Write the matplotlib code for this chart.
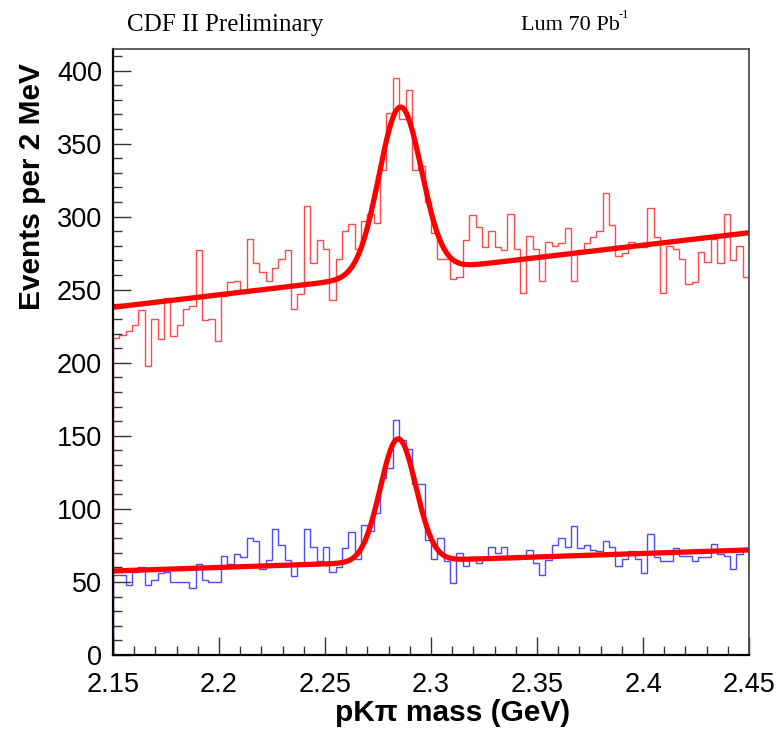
import numpy as np
import matplotlib
matplotlib.use("Agg")
from matplotlib import pyplot as plt
from matplotlib.ticker import MultipleLocator, FuncFormatter

# pK-pi invariant mass, 100 bins between 2.15 and 2.45 GeV
x_min, x_max, n_bins = 2.15, 2.45, 100

upper_counts = [
    217, 219, 222, 226, 236, 198, 230, 216, 244, 218,
    226, 237, 239, 277, 229, 230, 215, 246, 255, 256,
    250, 285, 268, 262, 256, 265, 271, 277, 237, 247,
    307, 268, 284, 278, 243, 271, 290, 295, 278, 297,
    302, 296, 332, 371, 395, 367, 387, 332, 335, 310,
    289, 271, 271, 257, 259, 284, 301, 293, 279, 290,
    279, 277, 302, 278, 248, 287, 278, 256, 283, 280,
    282, 292, 256, 277, 282, 286, 290, 316, 294, 273,
    275, 283, 279, 279, 306, 286, 248, 280, 278, 271,
    254, 255, 276, 269, 285, 268, 302, 270, 280, 259,
]

lower_counts = [
    55, 55, 48, 57, 60, 48, 51, 56, 57, 50,
    50, 50, 46, 62, 51, 50, 50, 68, 62, 69,
    67, 80, 78, 59, 65, 86, 75, 65, 54, 63,
    86, 74, 64, 74, 57, 60, 73, 84, 66, 89,
    85, 97, 121, 128, 161, 147, 141, 117, 117, 79,
    66, 80, 64, 49, 70, 61, 67, 63, 67, 74,
    70, 74, 66, 66, 68, 72, 63, 55, 65, 75,
    80, 74, 88, 73, 75, 72, 71, 78, 74, 61,
    66, 71, 66, 56, 83, 67, 64, 64, 73, 68,
    68, 64, 67, 67, 76, 69, 68, 59, 69, 73,
]

# fit results: linear background (value at 2.15, slope per GeV) + gaussian
upper_fit = dict(bkg=238.0, slope=170.0, mean=2.2855, sigma=0.0100, amp=114.0)
lower_fit = dict(bkg=57.5, slope=48.0, mean=2.2845, sigma=0.0084, amp=84.0)


def fit_curve(x, p):
    bkg = p["bkg"] + p["slope"] * (x - x_min)
    return bkg + p["amp"] * np.exp(-0.5 * ((x - p["mean"]) / p["sigma"]) ** 2)


edges = np.linspace(x_min, x_max, n_bins + 1)
xs = np.linspace(x_min, x_max, 600)

fig = plt.figure(figsize=(7.79, 7.29), dpi=100)
ax = fig.add_axes([113 / 779, 1 - 655 / 729, 636 / 779, 606 / 729])

ax.stairs(upper_counts, edges, color="#ff4a4a", linewidth=1.0)
ax.stairs(lower_counts, edges, color="#4a4aff", linewidth=1.0)
ax.plot(xs, fit_curve(xs, upper_fit), color="#ff0000", linewidth=3.8,
        solid_capstyle="butt")
ax.plot(xs, fit_curve(xs, lower_fit), color="#ff0000", linewidth=3.8,
        solid_capstyle="butt")

ax.set_xlim(x_min, x_max)
ax.set_ylim(0, max(upper_counts) * 1.05)

ax.xaxis.set_major_locator(MultipleLocator(0.05))
ax.xaxis.set_minor_locator(MultipleLocator(0.01))
ax.yaxis.set_major_locator(MultipleLocator(50))
ax.yaxis.set_minor_locator(MultipleLocator(10))
ax.xaxis.set_major_formatter(FuncFormatter(lambda v, _: f"{v:.2f}".rstrip("0")))
ax.tick_params(which="both", direction="in", top=False, right=False,
               labelsize=19.5, labelfontfamily="Liberation Sans", width=1.0,
               color="#333333")
ax.tick_params(which="major", length=13)
ax.tick_params(which="minor", length=6.5)
ax.tick_params(axis="x", pad=12)
ax.tick_params(axis="y", pad=8)

for side in ("left", "bottom"):
    ax.spines[side].set_linewidth(1.6)
for side in ("top", "right"):
    ax.spines[side].set_linewidth(1.2)
    ax.spines[side].set_color("#444444")

fig.text(32 / 779, 1 - 187 / 729, "Events per 2 MeV", rotation=90,
         ha="center", va="center", fontsize=21.5, fontweight="bold",
         family="Liberation Sans")
fig.text(453 / 779, 1 - 713 / 729, "pK\u03c0 mass (GeV)", ha="center",
         va="center", fontsize=21.5, fontweight="bold", family="Liberation Sans")

fig.text(127 / 779, 1 - 25 / 729, "CDF II Preliminary", ha="left",
         va="center", fontsize=18, family="Liberation Serif")
fig.text(521 / 779, 1 - 25 / 729, "Lum 70 Pb", ha="left", va="center",
         fontsize=16, family="Liberation Serif")
fig.text(619 / 779, 1 - 15 / 729, "-1", ha="left", va="center",
         fontsize=9, family="Liberation Serif")

fig.savefig("out.png", dpi=100)
